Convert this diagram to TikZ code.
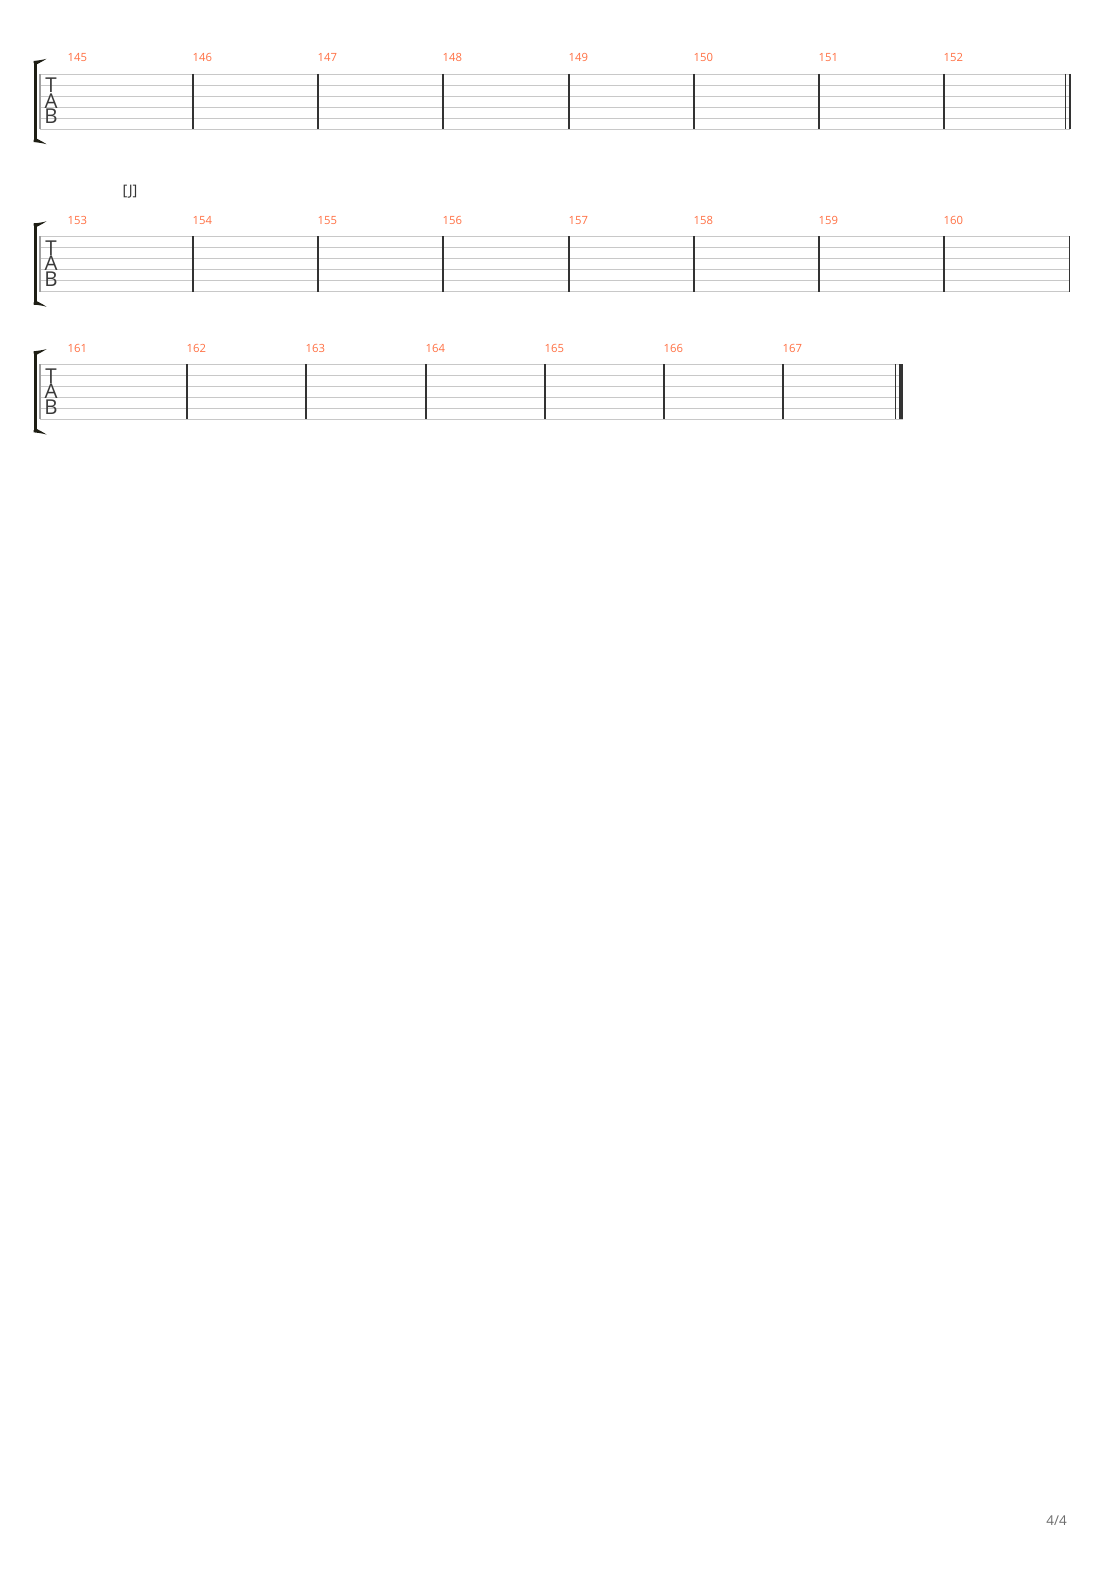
\documentclass[tikz,border=0pt]{standalone}
\usepackage{fontspec}
\setmainfont{Open Sans}
\definecolor{mnum}{HTML}{FF7043}
\definecolor{staffc}{HTML}{C8C8C8}
\definecolor{barc}{HTML}{333333}
\definecolor{brk}{HTML}{1E1E14}
\definecolor{tabc}{HTML}{3A3A3A}
\begin{document}
\begin{tikzpicture}[x=1pt,y=-1pt,
  mnumstyle/.style={anchor=base west,inner sep=0pt,text=mnum,font=\fontsize{11.3}{11.3}\selectfont},
  tabletter/.style={anchor=base,inner sep=0pt,text=tabc,font=\fontsize{20.5}{20.5}\selectfont},
  staffline/.style={draw=staffc,line width=0.9pt},
  barline/.style={draw=barc,line width=1.1pt},
  leftedge/.style={draw=gray!75,line width=1.6pt},
  bracketfill/.style={fill=brk}]
\useasboundingbox (0,0) rectangle (1110,1570);
\fill[white] (0,0) rectangle (1110,1570);

% ---------- system 1 ----------
\foreach \k in {0,...,5} \draw[staffline] (40,74+11*\k) -- (1070,74+11*\k);
\draw[leftedge] (40,74) -- (40,129);
\foreach \bx in {193,318,443,569,694,819,944,1065.5,1070} \draw[barline] (\bx,74) -- (\bx,129);
\fill[bracketfill] (33.5,61) rectangle (36.5,142);
\fill[bracketfill] (33.5,63) -- (33.5,61) .. controls (38,60.5) and (42,60) .. (46.5,58.8) .. controls (42.5,61.5) and (39.5,62.8) .. (36.5,64.5) -- cycle;
\fill[bracketfill] (33.5,140) -- (33.5,142) .. controls (38,142.5) and (42,143) .. (46.5,144.2) .. controls (42.5,141.5) and (39.5,140.2) .. (36.5,138.5) -- cycle;
\node[tabletter] (t1) at (51,92.8) {T};
\node[tabletter] (a1) at (51,108.3) {A};
\node[tabletter] (b1) at (51,123.8) {B};
\foreach \n/\mx in {145/67.5,146/192.5,147/317.5,148/442.5,149/568.5,150/693.5,151/818.5,152/943.5}
  \node[mnumstyle] (m\n) at (\mx,62) {\n};

% ---------- system 2 ----------
\node[anchor=base west,inner sep=0pt,text=barc,font=\fontsize{14.5}{14.5}\selectfont] (secJ) at (122.5,196) {[J]};
\foreach \k in {0,...,5} \draw[staffline] (40,236.5+11*\k) -- (1070,236.5+11*\k);
\draw[leftedge] (40,236.5) -- (40,291.5);
\foreach \bx in {193,318,443,569,694,819,944,1069.5} \draw[barline] (\bx,236.5) -- (\bx,291.5);
\fill[bracketfill] (33.5,223.5) rectangle (36.5,304.5);
\fill[bracketfill] (33.5,225.5) -- (33.5,223.5) .. controls (38,223) and (42,222.5) .. (46.5,221.3) .. controls (42.5,224) and (39.5,225.3) .. (36.5,227) -- cycle;
\fill[bracketfill] (33.5,302.5) -- (33.5,304.5) .. controls (38,305) and (42,305.5) .. (46.5,306.7) .. controls (42.5,304) and (39.5,302.7) .. (36.5,301) -- cycle;
\node[tabletter] (t2) at (51,255.3) {T};
\node[tabletter] (a2) at (51,270.8) {A};
\node[tabletter] (b2) at (51,286.3) {B};
\foreach \n/\mx in {153/67.5,154/192.5,155/317.5,156/442.5,157/568.5,158/693.5,159/818.5,160/943.5}
  \node[mnumstyle] (m\n) at (\mx,224.3) {\n};

% ---------- system 3 ----------
\foreach \k in {0,...,5} \draw[staffline] (40,364.3+11*\k) -- (903,364.3+11*\k);
\draw[leftedge] (40,364.3) -- (40,419.3);
\foreach \bx in {187,306,426,545,664,783,895.3} \draw[barline] (\bx,364.3) -- (\bx,419.3);
\fill[barc] (899.3,364.3) rectangle (903.3,419.3);
\fill[bracketfill] (33.5,351.3) rectangle (36.5,432.3);
\fill[bracketfill] (33.5,353.3) -- (33.5,351.3) .. controls (38,350.8) and (42,350.3) .. (46.5,349.1) .. controls (42.5,351.8) and (39.5,353.1) .. (36.5,354.8) -- cycle;
\fill[bracketfill] (33.5,430.3) -- (33.5,432.3) .. controls (38,432.8) and (42,433.3) .. (46.5,434.5) .. controls (42.5,431.8) and (39.5,430.5) .. (36.5,428.8) -- cycle;
\node[tabletter] (t3) at (51,383.1) {T};
\node[tabletter] (a3) at (51,398.6) {A};
\node[tabletter] (b3) at (51,414.1) {B};
\foreach \n/\mx in {161/67.5,162/186.5,163/305.5,164/425.5,165/544.5,166/663.5,167/782.5}
  \node[mnumstyle] (m\n) at (\mx,352.3) {\n};

% ---------- page number ----------
\node[anchor=base east,inner sep=0pt,text=gray!85!black,font=\fontsize{13.5}{13.5}\selectfont] (pnum) at (1067,1525.5) {4/4};
\end{tikzpicture}
\end{document}
